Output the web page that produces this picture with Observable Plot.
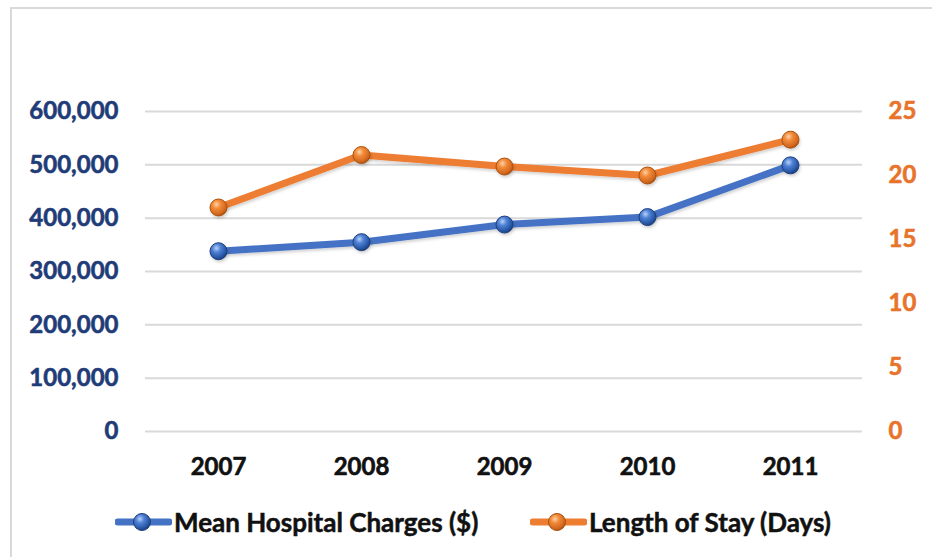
<!DOCTYPE html>
<html><head><meta charset="utf-8">
<script src="https://cdn.jsdelivr.net/npm/d3@7"></script>
<script src="https://cdn.jsdelivr.net/npm/@observablehq/plot@0.6"></script>
<style>
html,body{margin:0;padding:0;background:#fff;width:932px;height:557px;overflow:hidden;font-family:Lato,"DejaVu Sans",sans-serif;}
#frame{position:absolute;left:10px;top:7px;width:950px;height:580px;border-left:2px solid #d9d9d9;border-top:2px solid #d9d9d9;box-sizing:border-box;pointer-events:none}
#chart{position:absolute;left:0;top:0;width:932px}
.item{position:absolute;top:506px;height:32px;display:flex;align-items:center;font-family:Lato,sans-serif;font-weight:700;font-size:26px;color:#111;white-space:nowrap;-webkit-text-stroke:0.5px #111}
.item svg{display:block;margin-right:2px}
</style>
</head><body>
<div id="frame"></div>
<div id="chart"></div>
<div class="item" id="leg1" style="left:115px"></div>
<div class="item" id="leg2" style="left:530px"></div>
<script>
const years = ["2007", "2008", "2009", "2010", "2011"];
const charges = [338000, 355000, 388000, 402000, 499000];
const stay = [17.5, 21.6, 20.7, 20.0, 22.8];
const leftTicks = [0, 100000, 200000, 300000, 400000, 500000, 600000];
const rightTicks = [0, 5, 10, 15, 20, 25];
const seriesNames = ["Mean Hospital Charges ($)", "Length of Stay (Days)"];

const ratio = 600000 / 25;
const rows = years.map((y, i) => ({year: y, charges: charges[i], stay: stay[i] * ratio}));

const plot = Plot.plot({
  width: 932,
  height: 490,
  marginLeft: 145,
  marginRight: 70,
  marginTop: 111,
  marginBottom: 59,
  style: {fontFamily: "Lato, sans-serif", fontWeight: 700, fontSize: "24px", background: "transparent", overflow: "visible"},
  x: {type: "point", domain: years, padding: 0.5, axis: null},
  y: {domain: [0, 600000], axis: null},
  marks: [
    Plot.gridY(leftTicks, {stroke: "#d9d9d9", strokeWidth: 2, strokeOpacity: 1}),
    Plot.axisY(leftTicks, {anchor: "left", tickSize: 0, tickPadding: 27, tickFormat: d3.format(","), color: "#1f3c78", fontSize: 24, fontWeight: 700, label: null}),
    Plot.axisY(rightTicks.map(d => d * ratio), {anchor: "right", tickSize: 0, tickPadding: 26, tickFormat: d => String(Math.round(d / ratio)), color: "#e8732a", fontSize: 24, fontWeight: 700, textAnchor: "start", label: null}),
    Plot.axisX(years, {anchor: "bottom", tickSize: 0, tickPadding: 26, color: "#111", fontSize: 24, fontWeight: 700, label: null}),
    Plot.line(rows, {x: "year", y: "stay", stroke: "#ED7D31", strokeWidth: 7, strokeLinejoin: "round"}),
    Plot.line(rows, {x: "year", y: "charges", stroke: "#4472C4", strokeWidth: 7, strokeLinejoin: "round"}),
    Plot.dot(rows, {x: "year", y: "stay", r: 8.5, fill: "url(#gOrange)", stroke: "#a9520f", strokeWidth: 1}),
    Plot.dot(rows, {x: "year", y: "charges", r: 8.5, fill: "url(#gBlue)", stroke: "#1f3f7a", strokeWidth: 1})
  ]
});

const defs = `
<defs>
  <radialGradient id="gBlue" cx="0.38" cy="0.32" r="0.7">
    <stop offset="0" stop-color="#b9d1f5"/>
    <stop offset="0.35" stop-color="#4f82d6"/>
    <stop offset="0.85" stop-color="#23509e"/>
    <stop offset="1" stop-color="#1a3c7a"/>
  </radialGradient>
  <radialGradient id="gOrange" cx="0.38" cy="0.32" r="0.7">
    <stop offset="0" stop-color="#ffd2a6"/>
    <stop offset="0.35" stop-color="#f28b3a"/>
    <stop offset="0.85" stop-color="#d0651c"/>
    <stop offset="1" stop-color="#9e4a10"/>
  </radialGradient>
  <filter id="shadow" x="-10%" y="-30%" width="120%" height="160%">
    <feDropShadow dx="1" dy="2" stdDeviation="1.5" flood-color="#000" flood-opacity="0.18"/>
  </filter>
</defs>`;
plot.insertAdjacentHTML("afterbegin", defs);
plot.querySelectorAll("g[aria-label='line'] path").forEach(p => p.setAttribute("filter", "url(#shadow)"));
plot.querySelectorAll("g[aria-label='dot']").forEach(g => g.setAttribute("filter", "url(#shadow)"));
plot.querySelectorAll("g[aria-label$='tick label']").forEach(g => {
  const f = g.getAttribute("fill");
  if (f) { g.setAttribute("stroke", f); g.setAttribute("stroke-width", "0.6"); }
});
document.getElementById("chart").appendChild(plot);

function swatch(color, grad, edge) {
  return `<svg width="57" height="20" viewBox="0 0 57 20">
    <line x1="3" y1="10" x2="54" y2="10" stroke="${color}" stroke-width="7" stroke-linecap="round"/>
    <circle cx="27" cy="10" r="8.5" fill="url(#${grad})" stroke="${edge}" stroke-width="1"/>
  </svg>`;
}
document.getElementById("leg1").innerHTML = swatch("#4472C4", "gBlue", "#1f3f7a") + `<span>${seriesNames[0]}</span>`;
document.getElementById("leg2").innerHTML = swatch("#ED7D31", "gOrange", "#a9520f") + `<span>${seriesNames[1]}</span>`;
</script>
</body></html>
